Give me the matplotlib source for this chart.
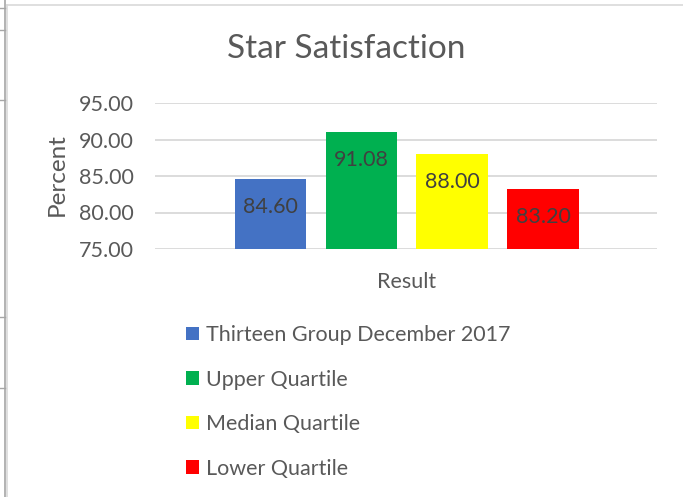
import matplotlib.pyplot as plt
from matplotlib.lines import Line2D
from matplotlib.patches import Patch
import numpy as np

# chart data
series = ['Thirteen Group December 2017', 'Upper Quartile', 'Median Quartile', 'Lower Quartile']
values = [84.60, 91.08, 88.00, 83.20]
colors = ['#4472C4', '#00B050', '#FFFF00', '#FF0000']
category = 'Result'
yticks = [75, 80, 85, 90, 95]

plt.rcParams['font.family'] = ['Lato', 'DejaVu Sans']
txt = '#595959'

W, H = 683, 497
fig = plt.figure(figsize=(W / 100, H / 100), dpi=100)
ax = fig.add_axes([155 / W, 1 - 249 / H, (657 - 155) / W, (249 - 103) / H])

x = np.arange(len(values)) - (len(values) - 1) / 2
bars = ax.bar(x, values, width=0.79, color=colors, zorder=3)
for b, v in zip(bars, values):
    ax.annotate('%.2f' % v, (b.get_x() + b.get_width() / 2, v), xytext=(0, -28),
                textcoords='offset pixels', ha='center', va='center',
                fontsize=15.5, color='#404040', zorder=4)

ax.set_ylim(75, 95)
ax.set_xlim(-2.77, 2.75)
ax.set_yticks(yticks)
ax.set_yticklabels(['%.2f' % t for t in yticks], fontsize=15.5, color=txt)
ax.tick_params(axis='y', length=0, pad=15.5)
ax.set_xticks([])
ax.grid(axis='y', color='#D9D9D9', linewidth=1.3, zorder=0)
for s in ax.spines.values():
    s.set_visible(False)

fig.text(57 / W, 1 - 175 / H, 'Percent', rotation=90, ha='center', va='center', fontsize=17.5, color=txt)
fig.text(407 / W, 1 - 288 / H, category, ha='center', va='baseline', fontsize=15.5, color=txt)
fig.text(346 / W, 1 - 58 / H, 'Star Satisfaction', ha='center', va='baseline', fontsize=24, color=txt)

handles = [Patch(facecolor=c, edgecolor='none') for c in colors]
fig.legend(handles, series, loc='upper left', bbox_to_anchor=(186 / W, 1 - 325 / H),
           frameon=False, fontsize=15.5, labelcolor=txt, handlelength=0.6, handleheight=0.6,
           handletextpad=0.33, labelspacing=1.14, borderaxespad=0, borderpad=0)

# sheet / chart frame lines
fig.add_artist(Line2D([5 / W, 5 / W], [0, 1], color='#A6A6A6', linewidth=1.2))
fig.add_artist(Line2D([6.5 / W, 1], [1 - 4.5 / H, 1 - 4.5 / H], color='#D9D9D9', linewidth=1.2))
fig.add_artist(Line2D([6.5 / W, 6.5 / W], [0, 1 - 4.5 / H], color='#D9D9D9', linewidth=1.2))
for yy in [8, 30, 100, 317, 388]:
    fig.add_artist(Line2D([0, 5 / W], [1 - yy / H, 1 - yy / H], color='#A6A6A6', linewidth=1))

fig.savefig('out.png', dpi=100)
